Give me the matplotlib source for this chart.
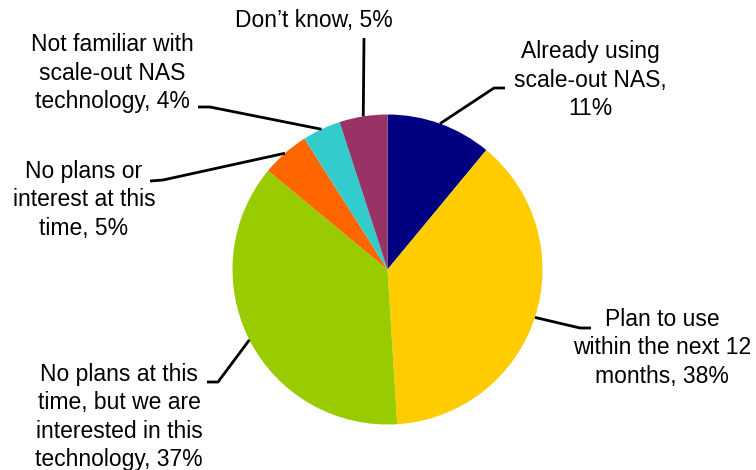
import numpy as np
import matplotlib.pyplot as plt

plt.rcParams['font.family'] = ['Liberation Sans', 'DejaVu Sans']

labels = [
    'Already using\nscale-out NAS,\n11%',
    'Plan to use\nwithin the next 12\nmonths, 38%',
    'No plans at this\ntime, but we are\ninterested in this\ntechnology, 37%',
    'No plans or\ninterest at this\ntime, 5%',
    'Not familiar with\nscale-out NAS\ntechnology, 4%',
    'Don\u2019t know, 5%',
]
values = [11, 38, 37, 5, 4, 5]
colors = ['#000080', '#FFCC00', '#99CC00', '#FF6600', '#33CCCC', '#993366']

W, H = 756, 470
center = (387.5, H - 269.5)
radius = 155

# label centres (pixel coords, y from top) and elbow of the leader line
text_pos = [(590, 80), (662, 348), (119, 417), (84, 200), (112, 73), (314, 21)]
elbow = [(494, 88), (580, 328), (218, 382), (163, 180), (210, 107), (364, 38)]
hend = [(505, 88), (591, 328), (207, 382), (150, 181), (198, 107), (364, 38)]

fig = plt.figure(figsize=(W / 100, H / 100), dpi=100)
ax = fig.add_axes([0, 0, 1, 1])
wedges, _ = ax.pie(values, colors=colors, startangle=90, counterclock=False,
                   center=center, radius=radius, frame=True,
                   wedgeprops=dict(linewidth=0))
ax.set_xlim(0, W)
ax.set_ylim(0, H)
ax.axis('off')

for w, lab, tp, el, he in zip(wedges, labels, text_pos, elbow, hend):
    mid = np.deg2rad((w.theta1 + w.theta2) / 2)
    ax_pt = (center[0] + radius * np.cos(mid), center[1] + radius * np.sin(mid))
    xs = [ax_pt[0], el[0], he[0]]
    ys = [ax_pt[1], H - el[1], H - he[1]]
    ax.plot(xs, ys, color='black', lw=2, solid_capstyle='butt')
    ax.text(tp[0], H - tp[1], lab, ha='center', va='center', fontsize=16.5,
            linespacing=1.31, multialignment='center', color='black')

fig.savefig('out.png', dpi=100)
